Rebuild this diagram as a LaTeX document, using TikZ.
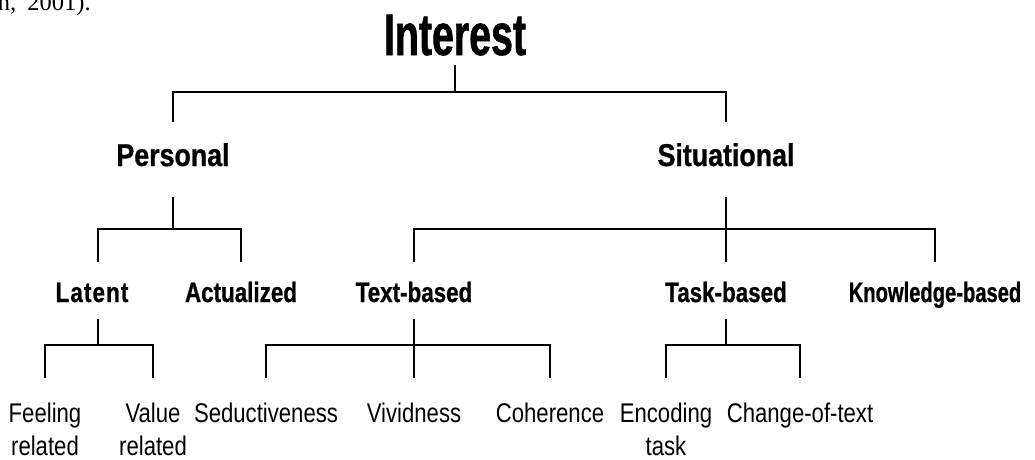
\documentclass[tikz,border=0pt]{standalone}
\usepackage{fontspec}
\usepackage{graphicx}
\setmainfont{Liberation Sans}
\newfontfamily\citefont{Liberation Serif}
\newfontfamily\ftitle{Liberation Sans}[FakeStretch=0.67,BoldFeatures={FakeBold=1}]
\newfontfamily\ftwo{Liberation Sans}[FakeStretch=0.85,BoldFeatures={FakeBold=0.8}]
\newfontfamily\fthree{Liberation Sans}[FakeStretch=0.80,BoldFeatures={FakeBold=0.8}]
\newfontfamily\ffour{Liberation Sans}[FakeStretch=0.82]
\begin{document}
\begin{tikzpicture}[x=1pt,y=-1pt,
  every node/.style={inner sep=0pt, outer sep=0pt},
  conn/.style={line width=2.5pt, line join=miter},
  titlenode/.style={anchor=base, font=\ftitle\bfseries\fontsize{58.7}{60}\selectfont},
  lvtwo/.style={anchor=base, font=\ftwo\bfseries\fontsize{31.5}{34}\selectfont},
  lvthree/.style={anchor=base, font=\fthree\bfseries\fontsize{28}{30}\selectfont},
  lvfour/.style={anchor=north, align=center, font=\ffour\fontsize{27}{33}\selectfont},
  citestyle/.style={anchor=base west, font=\citefont\fontsize{24.5}{26}\selectfont}
]
\useasboundingbox (0,0) rectangle (1035,459);

% bar levels
\coordinate (b1) at (0,92);
\coordinate (b2) at (0,229);
\coordinate (b3) at (0,345);

% cropped citation at the top
\node[citestyle] (cite) at (-2,10.5) {n,\hspace{11pt}2001).};

% level 1
\node[titlenode] (interest) at (455,55) {Interest};

% level 2
\node[lvtwo] (personal) at (173,166) {Personal};
\node[lvtwo] (situational) at (726,166) {Situational};

% level 3
\node[lvthree] (latent) at (92,302) {\addfontfeature{LetterSpace=4}Latent};
\coordinate (latx) at ([xshift=6pt]latent.base);
\node[lvthree] (actualized) at (241,302) {Actualized};
\node[lvthree] (textbased) at (414,302) {Text-based};
\node[lvthree] (taskbased) at (726,302) {Task-based};
\node[lvthree] (knowledge) at (935,302) {\scalebox{0.9}[1]{Knowledge-based}};

% level 4
\node[lvfour] (feeling) at (45,402.5) {Feeling\\related};
\node[lvfour] (value) at (153,402.5) {Value\\related};
\node[lvfour] (seductive) at (266,402.5) {Seductiveness};
\node[lvfour] (vivid) at (414,402.5) {Vividness};
\node[lvfour] (coherence) at (550,402.5) {Coherence};
\node[lvfour] (encoding) at (666,402.5) {Encoding\\task};
\node[lvfour] (change) at (800,402.5) {Change-of-text};

% Interest
\draw[conn] ([yshift=-10pt]interest.base) -- (interest.base |- b1);
\draw[conn] ([yshift=44pt]personal.base) -- (personal.base |- b1)
  -- (situational.base |- b1) -- ([yshift=44pt]situational.base);

% Personal
\draw[conn] ([yshift=-31pt]personal.base) -- (personal.base |- b2);
\draw[conn] ([yshift=40pt]latx) -- (latx |- b2)
  -- (actualized.base |- b2) -- ([yshift=40pt]actualized.base);

% Situational
\draw[conn] ([yshift=-31pt]situational.base) -- (situational.base |- b2);
\draw[conn] ([yshift=40pt]textbased.base) -- (textbased.base |- b2)
  -- (knowledge.base |- b2) -- ([yshift=40pt]knowledge.base);
\draw[conn] (taskbased.base |- b2) -- ([yshift=40pt]taskbased.base);

% Latent
\draw[conn] ([yshift=-17pt]latx) -- (latx |- b3);
\draw[conn] ([yshift=25pt]feeling.north) -- (feeling.north |- b3)
  -- (value.north |- b3) -- ([yshift=25pt]value.north);

% Text-based
\draw[conn] ([yshift=-17pt]textbased.base) -- (textbased.base |- b3);
\draw[conn] ([yshift=25pt]seductive.north) -- (seductive.north |- b3)
  -- (coherence.north |- b3) -- ([yshift=25pt]coherence.north);
\draw[conn] (vivid.north |- b3) -- ([yshift=25pt]vivid.north);

% Task-based
\draw[conn] ([yshift=-17pt]taskbased.base) -- (taskbased.base |- b3);
\draw[conn] ([yshift=25pt]encoding.north) -- (encoding.north |- b3)
  -- (change.north |- b3) -- ([yshift=25pt]change.north);
\end{tikzpicture}
\end{document}
